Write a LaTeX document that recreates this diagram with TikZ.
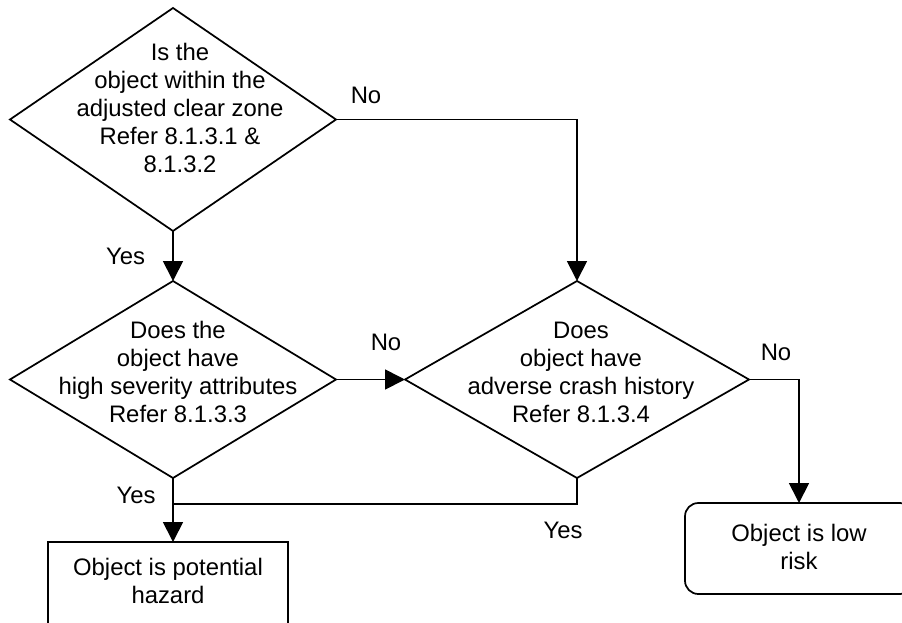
\documentclass[tikz,border=0pt]{standalone}
\usepackage{fontspec}
\setmainfont{Liberation Sans}
\usetikzlibrary{shapes.geometric,arrows.meta}
\begin{document}
\begin{tikzpicture}[x=0.75pt,y=-0.75pt,line width=1.3pt,
  dia/.style={diamond,draw,inner sep=0pt,outer sep=0pt},
  txt/.style={align=center,inner sep=0pt,font=\fontsize{17.9}{21}\selectfont},
  lbl/.style={inner sep=0pt,font=\fontsize{17.9}{21}\selectfont},
  boxnode/.style={rectangle,draw,inner sep=0pt,outer sep=0pt},
  arr/.style={-{Triangle[length=15pt,width=15pt]}}]
\useasboundingbox (0,0) rectangle (902,622);
\clip (0,0) rectangle (902,622);
% decisions
\node[dia,minimum width=244.5pt,minimum height=167.25pt] (d1) at (173,119.5) {};
\node[dia,minimum width=244.5pt,minimum height=147.75pt] (d2) at (173,379.5) {};
\node[dia,minimum width=258pt,minimum height=147.75pt] (d3) at (577,379.5) {};
\node[txt] (t1) at (180,108) {Is the\\object within the\\adjusted clear zone\\Refer 8.1.3.1 \&\\8.1.3.2};
\node[txt] (t2) at (178,372) {Does the\\object have\\high severity attributes\\Refer 8.1.3.3};
\node[txt] (t3) at (581,372) {Does\\object have\\adverse crash history\\Refer 8.1.3.4};
% outcomes
\node[boxnode,minimum width=180pt,minimum height=75pt] (b1) at (168,592) {};
\node[txt] (tb1) at (168,581) {Object is potential\\hazard};
\node[boxnode,rounded corners=10pt,minimum width=171pt,minimum height=68.25pt] (b2) at (799,548.5) {};
\node[txt] (tb2) at (799,547) {Object is low\\risk};
% connectors
\coordinate (j) at (173,504);
\draw[arr] (d1.south) -- (d2.north);
\draw[arr] (d1.east) -| (d3.north);
\draw[arr] (d2.east) -- (d3.west);
\draw[arr] (d3.east) -| (b2.north);
\draw[arr] (d2.south) -- (d2.south |- b1.north);
\draw (d3.south) |- (j);
% labels
\node[lbl] (ly1) at (125.5,256) {Yes};
\node[lbl] (ly2) at (136,495) {Yes};
\node[lbl] (ly3) at (563,530) {Yes};
\node[lbl] (ln1) at (366,95) {No};
\node[lbl] (ln2) at (386,342) {No};
\node[lbl] (ln3) at (776,352) {No};
\end{tikzpicture}
\end{document}
